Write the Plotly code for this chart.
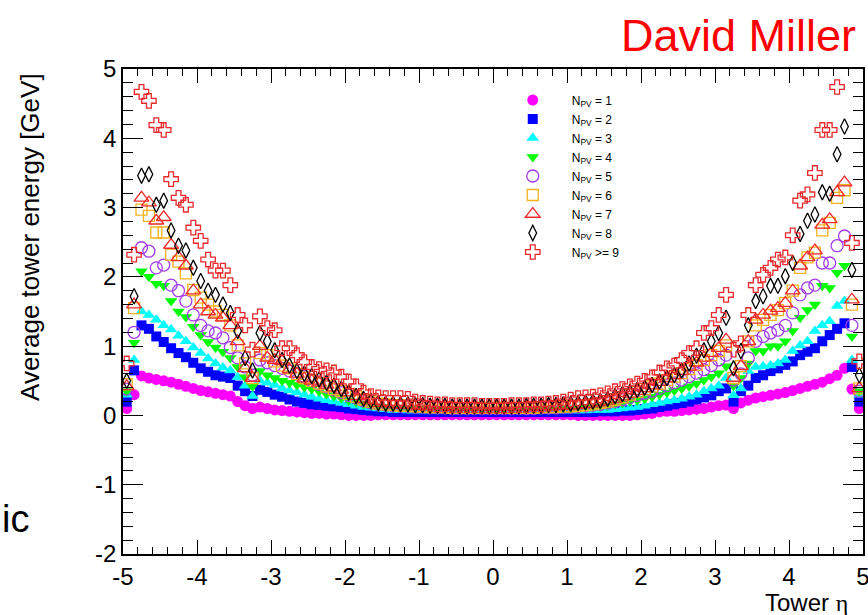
import numpy as np
import plotly.graph_objects as go

# Tower eta bin centres (-4.95 ... 4.95, width 0.1)
eta = np.round(np.arange(-4.95, 5.0, 0.1), 2)

x_ticks = [-5, -4, -3, -2, -1, 0, 1, 2, 3, 4, 5]
x_ticktext = ["-5", "-4", "-3", "-2", "-1", "0", "1", "2", "3", "4", "5"]
y_ticks = [-2, -1, 0, 1, 2, 3, 4, 5]
y_ticktext = ["-2", "-1", "0", "1", "2", "3", "4", "5"]

labels = ["N<sub>PV</sub> = 1", "N<sub>PV</sub> = 2", "N<sub>PV</sub> = 3",
          "N<sub>PV</sub> = 4", "N<sub>PV</sub> = 5", "N<sub>PV</sub> = 6",
          "N<sub>PV</sub> = 7", "N<sub>PV</sub> = 8", "N<sub>PV</sub> &gt;= 9"]

npv1 = [0.10, 0.30, 0.57, 0.54, 0.52, 0.50, 0.48, 0.45, 0.42, 0.39,
        0.36, 0.34, 0.32, 0.30, 0.28, 0.20, 0.14, 0.10, 0.12, 0.10,
        0.08, 0.07, 0.06, 0.05, 0.04, 0.03, 0.03, 0.02, 0.02, 0.01,
        0.00, 0.00, 0.00, 0.00, 0.01, 0.01, 0.01, 0.01, 0.01, 0.01,
        0.01, 0.01, 0.01, 0.01, 0.01, 0.01, 0.01, 0.01, 0.01, 0.01,
        0.01, 0.01, 0.01, 0.01, 0.01, 0.01, 0.01, 0.01, 0.01, 0.01,
        0.01, 0.00, 0.00, 0.00, 0.00, 0.00, 0.00, 0.00, 0.00, 0.01,
        0.02, 0.03, 0.05, 0.06, 0.06, 0.07, 0.08, 0.09, 0.10, 0.12,
        0.14, 0.15, 0.10, 0.18, 0.22, 0.25, 0.27, 0.29, 0.31, 0.33,
        0.36, 0.39, 0.42, 0.45, 0.48, 0.53, 0.58, 0.68, 0.38, 0.10]

npv2 = [0.20, 0.65, 1.30, 1.25, 1.14, 1.06, 0.97, 0.90, 0.84, 0.76,
        0.68, 0.63, 0.58, 0.56, 0.54, 0.43, 0.35, 0.28, 0.37, 0.34,
        0.30, 0.27, 0.23, 0.20, 0.18, 0.16, 0.15, 0.14, 0.13, 0.12,
        0.10, 0.09, 0.08, 0.07, 0.06, 0.06, 0.05, 0.05, 0.05, 0.05,
        0.05, 0.05, 0.05, 0.05, 0.05, 0.05, 0.05, 0.05, 0.05, 0.05,
        0.05, 0.05, 0.05, 0.05, 0.05, 0.05, 0.05, 0.05, 0.05, 0.05,
        0.05, 0.05, 0.05, 0.05, 0.06, 0.06, 0.06, 0.07, 0.07, 0.08,
        0.09, 0.10, 0.12, 0.14, 0.16, 0.18, 0.20, 0.23, 0.26, 0.29,
        0.35, 0.39, 0.20, 0.35, 0.43, 0.54, 0.58, 0.64, 0.68, 0.73,
        0.78, 0.87, 0.92, 0.97, 1.07, 1.16, 1.25, 1.33, 0.70, 0.20]

npv3 = [0.30, 0.80, 1.50, 1.45, 1.38, 1.30, 1.24, 1.15, 1.07, 0.98,
        0.90, 0.82, 0.75, 0.69, 0.65, 0.55, 0.43, 0.28, 0.50, 0.47,
        0.44, 0.39, 0.36, 0.33, 0.30, 0.27, 0.24, 0.22, 0.20, 0.18,
        0.16, 0.14, 0.12, 0.11, 0.10, 0.09, 0.08, 0.08, 0.07, 0.07,
        0.07, 0.07, 0.07, 0.07, 0.07, 0.07, 0.07, 0.07, 0.07, 0.07,
        0.07, 0.07, 0.07, 0.07, 0.07, 0.07, 0.07, 0.07, 0.07, 0.07,
        0.07, 0.07, 0.07, 0.08, 0.08, 0.08, 0.09, 0.10, 0.11, 0.12,
        0.14, 0.16, 0.18, 0.20, 0.22, 0.24, 0.27, 0.30, 0.35, 0.39,
        0.43, 0.54, 0.29, 0.39, 0.64, 0.70, 0.71, 0.72, 0.75, 0.80,
        0.93, 1.01, 1.07, 1.22, 1.30, 1.36, 1.58, 1.65, 0.80, 0.30]

npv4 = [0.35, 1.05, 2.08, 2.00, 1.90, 1.87, 1.65, 1.50, 1.42, 1.28,
        1.16, 1.06, 0.98, 0.92, 0.83, 0.70, 0.55, 0.42, 0.64, 0.58,
        0.54, 0.50, 0.47, 0.44, 0.41, 0.38, 0.35, 0.31, 0.28, 0.25,
        0.22, 0.19, 0.17, 0.15, 0.13, 0.12, 0.11, 0.11, 0.10, 0.10,
        0.10, 0.09, 0.09, 0.09, 0.09, 0.09, 0.09, 0.09, 0.09, 0.09,
        0.09, 0.09, 0.09, 0.09, 0.09, 0.09, 0.09, 0.09, 0.09, 0.10,
        0.10, 0.10, 0.11, 0.12, 0.13, 0.14, 0.16, 0.18, 0.20, 0.22,
        0.24, 0.27, 0.30, 0.33, 0.36, 0.39, 0.42, 0.46, 0.51, 0.56,
        0.61, 0.71, 0.43, 0.54, 0.75, 0.93, 0.93, 1.00, 1.00, 1.07,
        1.22, 1.41, 1.52, 1.60, 1.87, 1.84, 2.06, 2.16, 1.14, 0.35]

npv5 = [0.38, 1.20, 2.42, 2.37, 2.13, 2.17, 1.88, 1.80, 1.65, 1.45,
        1.30, 1.22, 1.19, 1.12, 0.98, 0.83, 0.70, 0.58, 0.80, 0.76,
        0.72, 0.68, 0.64, 0.60, 0.56, 0.50, 0.45, 0.41, 0.37, 0.33,
        0.29, 0.25, 0.21, 0.18, 0.16, 0.15, 0.14, 0.13, 0.13, 0.12,
        0.12, 0.11, 0.11, 0.11, 0.10, 0.10, 0.10, 0.10, 0.10, 0.10,
        0.10, 0.10, 0.10, 0.10, 0.10, 0.10, 0.11, 0.11, 0.11, 0.12,
        0.12, 0.13, 0.14, 0.15, 0.16, 0.18, 0.20, 0.23, 0.26, 0.29,
        0.32, 0.35, 0.39, 0.43, 0.47, 0.51, 0.56, 0.61, 0.66, 0.72,
        0.80, 0.87, 0.51, 0.60, 0.83, 1.07, 1.14, 1.19, 1.23, 1.30,
        1.48, 1.74, 1.84, 1.88, 2.20, 2.20, 2.45, 2.59, 1.30, 0.35]

npv6 = [0.45, 1.55, 2.97, 2.88, 2.64, 2.64, 2.32, 2.22, 2.05, 1.81,
        1.70, 1.60, 1.50, 1.45, 1.30, 1.01, 0.75, 0.54, 0.90, 0.87,
        0.78, 0.72, 0.68, 0.60, 0.54, 0.50, 0.46, 0.42, 0.38, 0.35,
        0.31, 0.27, 0.23, 0.20, 0.17, 0.16, 0.15, 0.14, 0.14, 0.13,
        0.13, 0.12, 0.12, 0.12, 0.11, 0.11, 0.11, 0.11, 0.11, 0.11,
        0.11, 0.11, 0.11, 0.11, 0.11, 0.11, 0.12, 0.12, 0.12, 0.13,
        0.13, 0.14, 0.15, 0.16, 0.18, 0.20, 0.23, 0.26, 0.30, 0.34,
        0.38, 0.42, 0.46, 0.51, 0.56, 0.61, 0.67, 0.73, 0.80, 0.87,
        0.93, 1.01, 0.54, 0.71, 1.07, 1.30, 1.38, 1.45, 1.52, 1.62,
        1.80, 2.13, 2.28, 2.35, 2.67, 2.78, 3.14, 3.25, 1.60, 0.39]

npv7 = [0.42, 1.60, 3.14, 3.07, 2.81, 2.86, 2.46, 2.28, 2.16, 1.80,
        1.60, 1.50, 1.45, 1.41, 1.30, 1.07, 0.68, 0.54, 1.00, 0.83,
        0.80, 0.78, 0.66, 0.60, 0.53, 0.50, 0.47, 0.44, 0.40, 0.37,
        0.33, 0.28, 0.24, 0.21, 0.18, 0.17, 0.16, 0.15, 0.15, 0.14,
        0.14, 0.13, 0.13, 0.13, 0.12, 0.12, 0.12, 0.12, 0.12, 0.12,
        0.12, 0.12, 0.12, 0.12, 0.12, 0.12, 0.13, 0.13, 0.13, 0.14,
        0.14, 0.15, 0.16, 0.17, 0.19, 0.21, 0.24, 0.27, 0.31, 0.35,
        0.39, 0.43, 0.48, 0.53, 0.58, 0.64, 0.70, 0.76, 0.83, 0.90,
        0.97, 1.09, 0.54, 0.71, 1.07, 1.38, 1.45, 1.51, 1.55, 1.62,
        1.80, 2.16, 2.28, 2.38, 2.75, 2.83, 3.22, 3.36, 1.67, 0.39]

npv8 = [0.50, 1.72, 3.46, 3.48, 3.04, 3.10, 2.67, 2.45, 2.38, 2.13,
        1.94, 1.80, 1.74, 1.60, 1.48, 1.22, 0.83, 0.65, 1.19, 1.07,
        0.94, 0.80, 0.72, 0.64, 0.60, 0.57, 0.52, 0.47, 0.43, 0.38,
        0.33, 0.28, 0.24, 0.21, 0.18, 0.17, 0.17, 0.16, 0.16, 0.15,
        0.15, 0.14, 0.14, 0.14, 0.13, 0.13, 0.13, 0.13, 0.13, 0.13,
        0.13, 0.13, 0.13, 0.13, 0.14, 0.14, 0.14, 0.15, 0.15, 0.16,
        0.17, 0.18, 0.19, 0.20, 0.21, 0.24, 0.28, 0.31, 0.34, 0.37,
        0.40, 0.44, 0.49, 0.54, 0.58, 0.65, 0.75, 0.86, 0.94, 1.07,
        1.19, 1.41, 0.68, 0.93, 1.30, 1.65, 1.72, 1.87, 1.87, 2.01,
        2.20, 2.62, 2.81, 2.90, 3.22, 3.20, 3.77, 4.17, 2.10, 0.58]

npv9 = [0.75, 2.32, 4.67, 4.54, 4.19, 4.12, 3.41, 3.14, 3.04, 2.71,
        2.52, 2.25, 2.09, 2.09, 1.88, 1.45, 1.30, 0.95, 1.43, 1.26,
        1.23, 0.97, 0.97, 0.87, 0.77, 0.70, 0.67, 0.65, 0.62, 0.56,
        0.49, 0.42, 0.33, 0.28, 0.26, 0.25, 0.25, 0.25, 0.24, 0.20,
        0.18, 0.17, 0.16, 0.16, 0.15, 0.15, 0.15, 0.15, 0.14, 0.14,
        0.14, 0.14, 0.15, 0.15, 0.15, 0.16, 0.16, 0.17, 0.18, 0.20,
        0.23, 0.25, 0.26, 0.27, 0.29, 0.32, 0.35, 0.38, 0.42, 0.46,
        0.50, 0.55, 0.62, 0.68, 0.72, 0.80, 0.90, 0.97, 1.19, 1.26,
        1.45, 1.74, 0.95, 1.04, 1.45, 1.88, 2.03, 2.13, 2.25, 2.28,
        2.60, 3.10, 3.19, 3.50, 4.12, 4.12, 4.74, 5.30, 2.49, 0.78]

series = [npv1, npv2, npv3, npv4, npv5, npv6, npv7, npv8, npv9]
symbols = ["circle", "square", "triangle-up", "triangle-down", "circle-open",
           "square-open", "triangle-up-open", "diamond-tall-open", "cross-open"]
colors = ["#FF00FF", "#0000FF", "#00FFFF", "#00FF00", "#A23BEA",
          "#F2B21E", "#EE2A2A", "#000000", "#E8282D"]
sizes = [11, 10, 11, 11, 12, 11, 13, 11, 12]

FONT = "Liberation Sans, Arial, Helvetica, sans-serif"

fig = go.Figure()
for vals, lab, sym, col, sz in zip(series, labels, symbols, colors, sizes):
    is_open = sym.endswith("open")
    fig.add_trace(go.Scatter(
        x=eta, y=vals, mode="markers", name=lab,
        marker=dict(symbol=sym, color=col, size=sz,
                    line=dict(width=1.3 if is_open else 0, color=col)),
    ))

axis_common = dict(
    showline=True, linecolor="black", linewidth=1.5, mirror="allticks",
    ticks="inside", tickcolor="black", tickwidth=1.2,
    showgrid=False, zeroline=False, ticklabeloverflow="allow",
    tickfont=dict(family=FONT, size=24, color="black"),
)

fig.update_xaxes(range=[-5, 5], tickvals=x_ticks, ticktext=x_ticktext, ticklen=14,
                 minor=dict(dtick=0.2, ticklen=7, tickwidth=1, tickcolor="black",
                            ticks="inside", showgrid=False),
                 **axis_common)
fig.update_yaxes(range=[-2, 5], tickvals=y_ticks, ticktext=y_ticktext, ticklen=20,
                 minor=dict(dtick=0.2, ticklen=10, tickwidth=1, tickcolor="black",
                            ticks="inside", showgrid=False),
                 **axis_common)

fig.update_layout(
    width=868, height=615,
    margin=dict(l=123, r=5, t=69, b=61, autoexpand=False),
    paper_bgcolor="white", plot_bgcolor="white",
    font=dict(family=FONT, color="black"),
    showlegend=True,
    legend=dict(x=0.501, y=0.966, xanchor="left", yanchor="top",
                bgcolor="rgba(0,0,0,0)", borderwidth=0, itemwidth=68,
                font=dict(family=FONT, size=12, color="black")),
    annotations=[
        dict(text="Average tower energy [GeV]", xref="paper", yref="paper",
             x=-0.1257, y=0.6536, xanchor="center", yanchor="middle",
             textangle=-90, showarrow=False,
             font=dict(family=FONT, size=26, color="black")),
        dict(text="Tower <span style=\"font-family:'Liberation Serif'\">η</span>",
             xref="paper", yref="paper",
             x=0.9824, y=-0.099, xanchor="right", yanchor="middle",
             showarrow=False, font=dict(family=FONT, size=24, color="black")),
        dict(text="David Miller", xref="paper", yref="paper",
             x=0.9932, y=1.0701, xanchor="right", yanchor="middle",
             showarrow=False, font=dict(family=FONT, size=45, color="#FF0000")),
        dict(text="ic", xref="paper", yref="paper",
             x=-0.1662, y=0.0722, xanchor="left", yanchor="middle",
             showarrow=False, font=dict(family=FONT, size=38, color="black")),
    ],
)

fig.write_html("out.html")
